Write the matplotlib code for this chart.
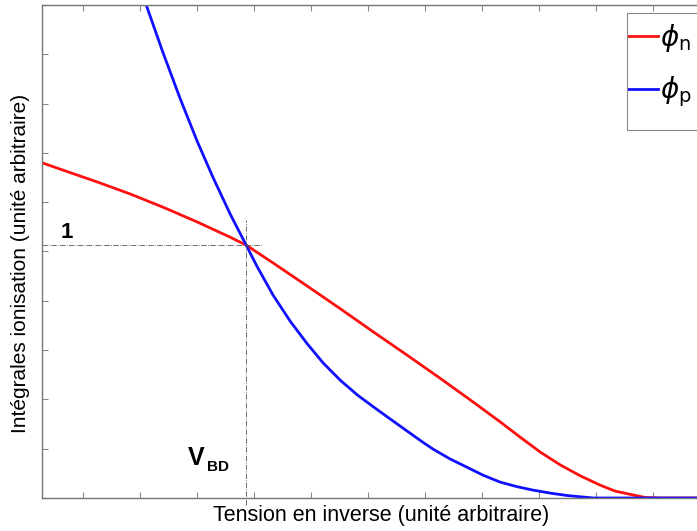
import numpy as np
import matplotlib.pyplot as plt
from matplotlib.patches import Rectangle

# (arbitrary units)
x_n = [0.28, 0.65, 1.25, 1.82, 2.40, 3.00, 3.58, 3.86, 4.33, 4.93, 5.51, 6.09, 6.68, 7.26,
       7.79, 8.32, 8.67, 9.02, 9.37, 9.72, 10.07, 10.33, 10.65, 10.86, 11.12, 12.2]
phi_n = [6.80, 6.65, 6.41, 6.17, 5.90, 5.60, 5.29, 5.13, 4.77, 4.30, 3.84, 3.37, 2.90, 2.43,
         1.99, 1.54, 1.23, 0.93, 0.67, 0.45, 0.26, 0.14, 0.06, 0.01, 0.0, 0.0]

x_p = [2.05, 2.12, 2.40, 2.70, 3.00, 3.28, 3.58, 3.86, 4.05, 4.33, 4.63, 4.93, 5.21, 5.51,
       5.81, 6.09, 6.39, 6.68, 6.96, 7.14, 7.44, 7.74, 8.02, 8.32, 8.61, 8.89, 9.19, 9.49,
       9.95, 12.2]
phi_p = [10.19, 9.96, 9.04, 8.11, 7.24, 6.50, 5.76, 5.13, 4.70, 4.12, 3.59, 3.13, 2.74, 2.39,
         2.09, 1.85, 1.60, 1.36, 1.13, 0.99, 0.79, 0.62, 0.46, 0.32, 0.23, 0.16, 0.10, 0.05,
         0.0, 0.0]

v_bd = 3.86
phi_bd = 5.13

plt.rcParams['font.family'] = ['Liberation Sans', 'DejaVu Sans']

fig = plt.figure(figsize=(6.97, 5.31), dpi=100)
ax = fig.add_axes([42 / 697, 33 / 531, 678 / 697, 493 / 531])

ax.plot(x_n, phi_n, color='#ff1010', linewidth=2.0, label=r'$\phi_{\mathsf{n}}$')
ax.plot(x_p, phi_p, color='#1010ff', linewidth=2.0, label=r'$\phi_{\mathsf{p}}$')

# breakdown voltage guide lines
ax.plot([0.28, 4.15], [phi_bd, phi_bd], color='#555555', linestyle='-.', linewidth=0.6)
ax.plot([v_bd, v_bd], [-0.15, 5.64], color='#555555', linestyle='-.', linewidth=0.6, clip_on=False)

ax.text(0.61, 5.27, '1', fontsize=16, fontweight='bold', ha='left', va='baseline')
ax.text(2.84, 0.67, 'V', fontsize=18, fontweight='bold', ha='left', va='baseline')
ax.text(3.17, 0.55, 'BD', fontsize=11, fontweight='bold', ha='left', va='baseline')

ax.set_xlim(0.28, 12.17)
ax.set_ylim(0, 10)
ax.set_xticks(range(1, 13))
ax.set_yticks(range(0, 11))
ax.tick_params(direction='in', length=4, color='#888888', labelbottom=False, labelleft=False,
               top=True, right=True)
for s in ax.spines.values():
    s.set_color('#777777')
    s.set_linewidth(1.0)

ax.set_xlabel('Tension en inverse (unité arbitraire)', fontsize=15.5, labelpad=5)
ax.set_ylabel('Intégrales ionisation (unité arbitraire)', fontsize=15)
ax.yaxis.set_label_coords(-0.018, 0.476)

leg = ax.legend(loc='upper left', bbox_to_anchor=(628 / 697, 1 - 22 / 531),
                bbox_transform=fig.transFigure, fontsize=20, handlelength=1.08,
                handletextpad=0.08, borderpad=0, labelspacing=0.75,
                frameon=False, borderaxespad=0)
fig.patches.append(Rectangle((627 / 697, 1 - 130 / 531), 80 / 697, 117 / 531,
                             transform=fig.transFigure, fill=False,
                             edgecolor='#888888', linewidth=0.8))

plt.savefig('out.png', dpi=100)
